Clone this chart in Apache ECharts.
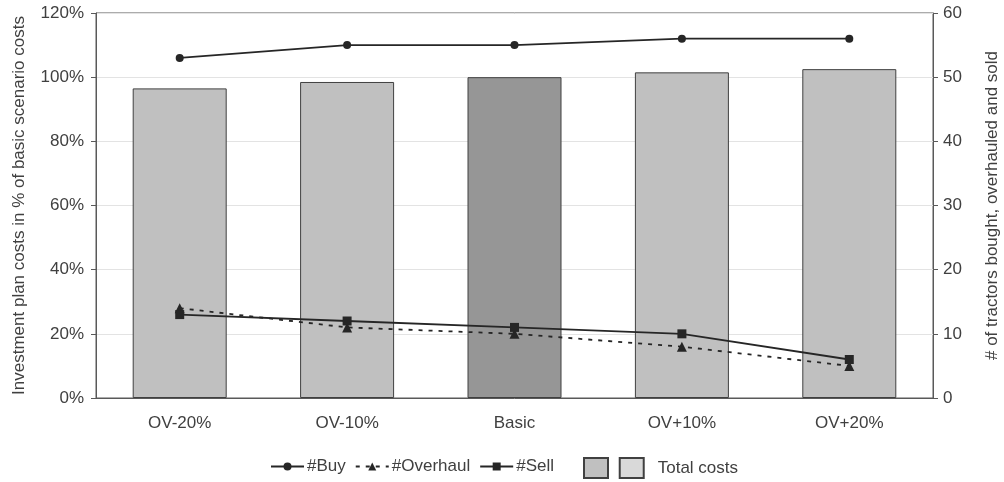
<!DOCTYPE html>
<html>
<head>
<meta charset="utf-8">
<script src="https://cdn.jsdelivr.net/npm/echarts@6/dist/echarts.min.js"></script>
<style>
  html, body { margin: 0; padding: 0; background: #fff; }
  #chart { width: 1004px; height: 482px; }
</style>
</head>
<body>
<div id="chart"></div>
<script>
// Scenario categories
const categories = ['OV-20%', 'OV-10%', 'Basic', 'OV+10%', 'OV+20%'];
// Total investment plan costs, % of the basic scenario
const totalCosts = [96.5, 98.5, 100, 101.5, 102.5];
// Number of tractors bought, overhauled and sold
const buyCounts = [53, 55, 55, 56, 56];
const overhaulCounts = [14, 11, 10, 8, 5];
const sellCounts = [13, 12, 11, 10, 6];
// Axis tick settings
const costTicks = { min: 0, max: 120, interval: 20 };
const countTicks = { min: 0, max: 60, interval: 10 };

const FONT = '"Liberation Sans", Arial, sans-serif';
const TEXT = '#404040';
const LINE = '#262626';

const chart = echarts.init(document.getElementById('chart'), null, { renderer: 'canvas' });

const barData = totalCosts.map((v, i) => ({
  value: v,
  itemStyle: { color: categories[i] === 'Basic' ? '#969696' : '#c0c0c0' }
}));

chart.setOption({
  animation: false,
  textStyle: { fontFamily: FONT },
  grid: {
    left: 96, right: 71, top: 13, bottom: 84,
    containLabel: false, outerBoundsMode: 'none',
    show: true, borderColor: '#595959', borderWidth: 1, backgroundColor: 'transparent'
  },
  legend: [
    {
      data: ['#Buy', '#Overhaul', '#Sell'],
      left: 270, top: 458, padding: 0,
      itemWidth: 33, itemHeight: 10, itemGap: 9,
      textStyle: { fontFamily: FONT, fontSize: 17, color: TEXT, padding: [0, 0, 0, -2] },
      selectedMode: false
    },
    {
      data: [
        { name: ' ', textStyle: { padding: 0 } },
        'Total costs'
      ],
      left: 583, top: 457, padding: 0,
      itemWidth: 24, itemHeight: 20, itemGap: 1,
      icon: 'rect',
      textStyle: { fontFamily: FONT, fontSize: 17, color: TEXT, padding: [0, 0, 0, 9] },
      selectedMode: false
    }
  ],
  xAxis: {
    type: 'category',
    data: categories,
    axisLine: { show: true, lineStyle: { color: '#595959', width: 1 } },
    axisTick: { show: false },
    axisLabel: { fontFamily: FONT, fontSize: 17, color: TEXT, margin: 17 }
  },
  yAxis: [
    {
      type: 'value',
      min: costTicks.min, max: costTicks.max, interval: costTicks.interval,
      name: 'Investment plan costs in % of basic scenario costs',
      nameLocation: 'middle', nameRotate: 90, nameGap: 68,
      nameTextStyle: { fontFamily: FONT, fontSize: 17, color: TEXT },
      axisLine: { show: true, lineStyle: { color: '#595959', width: 1 } },
      axisTick: { show: true, length: 5, lineStyle: { color: '#595959' } },
      axisLabel: { fontFamily: FONT, fontSize: 17, color: TEXT, margin: 12, formatter: '{value}%' },
      splitLine: { show: true, lineStyle: { color: '#e3e3e3', width: 1 } }
    },
    {
      type: 'value',
      position: 'right',
      min: countTicks.min, max: countTicks.max, interval: countTicks.interval,
      name: '# of tractors bought, overhauled and sold',
      nameLocation: 'middle', nameRotate: 90, nameGap: 51,
      nameTextStyle: { fontFamily: FONT, fontSize: 17, color: TEXT },
      axisLine: { show: true, lineStyle: { color: '#595959', width: 1 } },
      axisTick: { show: true, length: 5, lineStyle: { color: '#595959' } },
      axisLabel: { fontFamily: FONT, fontSize: 17, color: TEXT, margin: 10 },
      splitLine: { show: false }
    }
  ],
  series: [
    {
      name: ' ',
      type: 'bar',
      data: [],
      barWidth: 94, barGap: '-100%',
      itemStyle: { color: '#c0c0c0', borderColor: '#404040', borderWidth: 1 }
    },
    {
      name: 'Total costs',
      type: 'bar',
      data: barData,
      barWidth: 94, barGap: '-100%',
      itemStyle: { color: '#d9d9d9', borderColor: '#404040', borderWidth: 1 },
      z: 2
    },
    {
      name: '#Buy',
      type: 'line',
      yAxisIndex: 1,
      data: buyCounts,
      symbol: 'circle', symbolSize: 8,
      lineStyle: { color: LINE, width: 1.8 },
      itemStyle: { color: LINE },
      z: 5
    },
    {
      name: '#Overhaul',
      type: 'line',
      yAxisIndex: 1,
      data: overhaulCounts,
      symbol: 'triangle', symbolSize: 10,
      lineStyle: { color: LINE, width: 1.8, type: [4, 6] },
      itemStyle: { color: LINE },
      z: 5
    },
    {
      name: '#Sell',
      type: 'line',
      yAxisIndex: 1,
      data: sellCounts,
      symbol: 'rect', symbolSize: 9,
      lineStyle: { color: LINE, width: 1.8 },
      itemStyle: { color: LINE },
      z: 5
    }
  ]
});
</script>
</body>
</html>
